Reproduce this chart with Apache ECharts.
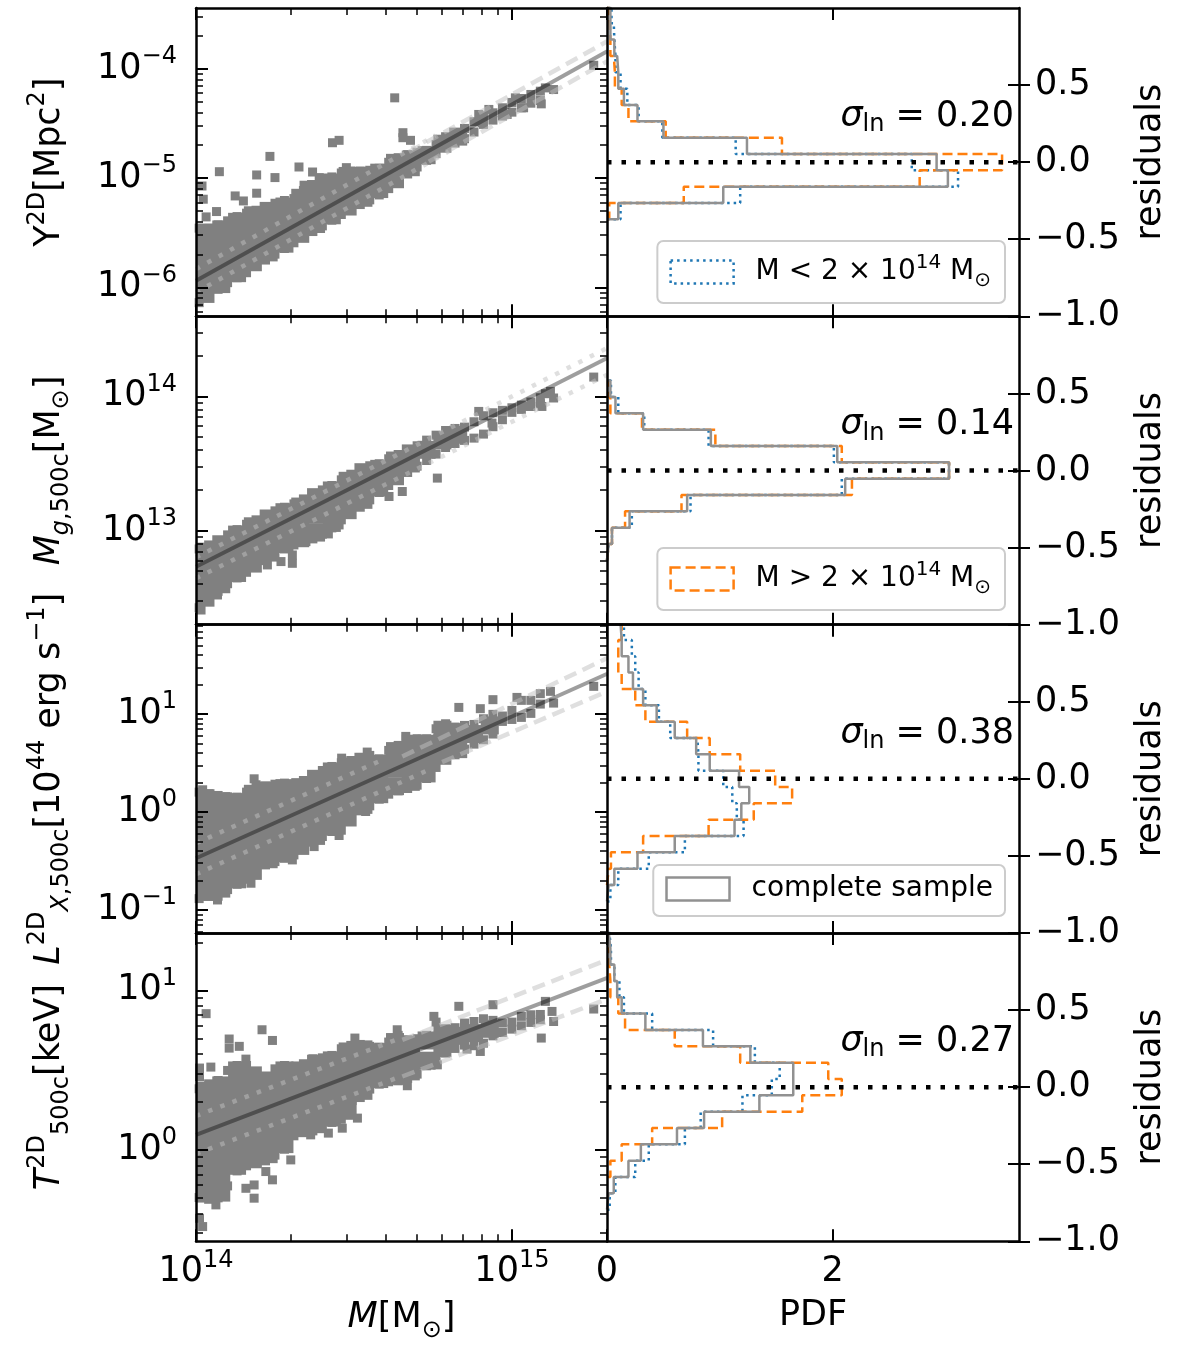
<!DOCTYPE html>
<html><head><meta charset="utf-8">
<script src="https://cdn.jsdelivr.net/npm/echarts@6/dist/echarts.min.js"></script>
<style>html,body{margin:0;padding:0;background:#fff}#c{width:1200px;height:1347px}</style>
</head><body><div id="c"></div>
<script>
// ================= DATA (log10 values for the scatter panels) =================
// mass positions of the sampled cloud edges and of the dense-core columns, log10(M/Msun)
const edgeM = [14.01,14.04,14.07,14.10,14.13,14.16,14.19,14.22,14.25,14.28,14.31,14.34,14.37,14.40,14.43,14.46,14.49,14.52,14.55,14.58,14.61,14.64,14.67,14.70,14.73,14.76,14.79,14.82,14.85,14.88,14.91,14.94,14.97,15.00,15.03,15.06,15.09];
const coreM = [14.03,14.08,14.13,14.18,14.23,14.28,14.33,14.38,14.43,14.48,14.53,14.58,14.63,14.68,14.73,14.78,14.83,14.88,14.93];

// ---- row 1 : Y2D [Mpc^2] ----
const topY = [-5.458,-5.458,-5.428,-5.391,-5.352,-5.321,-5.294,-5.263,-5.230,-5.205,-5.187,-5.114,-5.062,-5.026,-4.989,-4.953,-4.935,-4.935,-4.928,-4.910,-4.855,-4.813,-4.785,-4.764,-4.746,-4.691,-4.621,-4.584,-4.545,-4.484,-4.429,-4.402,-4.356,-4.307,-4.271,-4.234,-4.204];
const botY = [-6.140,-6.079,-6.018,-5.957,-5.912,-5.866,-5.808,-5.750,-5.696,-5.644,-5.592,-5.540,-5.489,-5.437,-5.385,-5.333,-5.285,-5.242,-5.199,-5.154,-5.096,-5.032,-4.962,-4.898,-4.837,-4.776,-4.715,-4.679,-4.639,-4.578,-4.508,-4.469,-4.432,-4.396,-4.356,-4.314,-4.289];
const coreY = [[-5.50,-5.61,-5.72,-5.84,-5.95,-6.06],[-5.47,-5.60,-5.72,-5.85,-5.97],[-5.40,-5.52,-5.64,-5.75,-5.87],[-5.34,-5.48,-5.63,-5.77],[-5.30,-5.43,-5.55,-5.68],[-5.26,-5.37,-5.49,-5.60],[-5.18,-5.29,-5.40,-5.51],[-5.10,-5.26,-5.42],[-5.04,-5.19,-5.34],[-4.98,-5.12,-5.26],[-4.98,-5.08,-5.18],[-4.95,-5.10],[-4.86,-5.01],[-4.83,-4.90],[-4.79],[-4.685],[-4.62],[],[]];
const outY = [[14.019,-5.072],[14.023,-5.193],[14.032,-5.355],[14.065,-5.306],[14.074,-4.941],[14.124,-5.163],[14.150,-5.209],[14.192,-4.971],[14.192,-5.138],[14.234,-4.801],[14.250,-4.995],[14.326,-4.898],[14.342,-5.065],[14.369,-4.944],[14.390,-4.995],[14.402,-5.020],[14.432,-4.676],[14.453,-4.654],[14.476,-4.904],[14.629,-4.265],[14.655,-4.584],[14.655,-4.630],[14.679,-4.654],[15.259,-3.967],[15.093,-4.320],[15.132,-4.189],[15.106,-4.174],[15.011,-4.265],[15.037,-4.356],[14.985,-4.417],[14.927,-4.371],[14.895,-4.417],[14.906,-4.493]];
const fitY = [[14.0,-5.939],[15.302,-3.839]];
const dotY = [[[14.0,-5.833],[14.758,-4.609]],[[14.0,-6.046],[14.800,-4.755]]];
const dashY = [[[14.674,-4.761],[15.302,-3.747]],[[14.737,-4.849],[15.302,-3.930]]];
const limY = [5.43e-7, 3.61e-4];

// ---- row 2 : Mg,500c [Msun] ----
const topMg = [12.863,12.893,12.925,12.968,13.007,13.047,13.080,13.114,13.147,13.174,13.199,13.236,13.276,13.303,13.336,13.378,13.420,13.463,13.483,13.498,13.535,13.567,13.597,13.632,13.674,13.711,13.746,13.761,13.771,13.811,13.856,13.878,13.896,13.915,13.935,13.958,13.990];
const botMg = [12.425,12.483,12.547,12.604,12.647,12.689,12.731,12.776,12.826,12.863,12.893,12.915,12.938,12.973,13.020,13.080,13.132,13.174,13.229,13.284,13.336,13.383,13.433,13.480,13.522,13.570,13.619,13.649,13.672,13.689,13.719,13.774,13.826,13.881,13.903,13.925,13.945];
const coreMg = [[12.843,12.729,12.614,12.500],[12.898,12.799,12.699,12.600],[12.970,12.876,12.779,12.684],[13.032,12.940,12.846,12.754],[13.090,13.005,12.920,12.836],[13.137,13.017,12.900],[13.179,13.062,12.943],[13.249,13.117,12.985],[13.299,13.179,13.057],[13.371,13.261,13.152],[13.435,13.333,13.229],[13.460,13.390,13.321],[13.522,13.405],[13.575,13.500],[13.602],[13.672],[13.714],[],[]];
const outMg = [[14.016,12.408],[14.068,12.520],[14.226,12.744],[14.269,12.769],[14.305,12.756],[14.305,12.818],[14.348,12.918],[14.419,12.975],[14.453,13.042],[14.611,13.254],[14.653,13.291],[14.764,13.391],[14.895,13.888],[14.937,13.801],[15.053,13.925],[15.132,13.988],[15.122,14.037],[15.259,14.144],[15.095,13.925],[15.106,14.020]];
const fitMg = [[14.0,12.731],[15.302,14.286]];
const dotMg = [[[14.0,12.801],[15.302,14.361]],[[14.0,12.644],[15.302,14.162]]];
const dashMg = [];
const limMg = [1.99e12, 3.95e14];

// ---- row 3 : LX,500c [1e44 erg/s] ----
const topL = [0.203,0.186,0.169,0.155,0.152,0.203,0.278,0.264,0.284,0.295,0.271,0.322,0.373,0.424,0.465,0.503,0.526,0.557,0.578,0.543,0.629,0.680,0.741,0.748,0.748,0.850,0.901,0.867,0.884,0.894,0.952,0.997,0.980,1.037,1.140,1.140,1.208];
const botL = [-0.884,-0.860,-0.860,-0.792,-0.738,-0.687,-0.618,-0.540,-0.506,-0.472,-0.438,-0.370,-0.308,-0.250,-0.199,-0.186,-0.090,0.012,0.063,0.131,0.182,0.216,0.240,0.274,0.342,0.455,0.550,0.584,0.642,0.693,0.738,0.796,0.925,0.945,0.966,1.007,1.102];
const coreL = [[0.141,-0.019,-0.179,-0.336,-0.496,-0.656,-0.816],[0.111,-0.039,-0.189,-0.336,-0.486,-0.635,-0.782],[0.101,-0.056,-0.213,-0.373,-0.530,-0.687],[0.186,0.029,-0.128,-0.288,-0.445,-0.601],[0.220,0.080,-0.060,-0.203,-0.342,-0.482],[0.244,0.077,-0.090,-0.254,-0.421],[0.254,0.104,-0.046,-0.196,-0.346],[0.339,0.193,0.046,-0.097,-0.244],[0.414,0.274,0.135,-0.009,-0.148],[0.465,0.291,0.118,-0.056],[0.513,0.366,0.220,0.073],[0.492,0.339,0.182],[0.622,0.445,0.264],[0.697,0.567,0.438,0.308],[0.697,0.547,0.394],[0.840,0.707,0.574],[0.816,0.642],[0.796],[0.884]];
const outL = [[14.832,1.068],[14.900,1.055],[14.940,1.147],[15.016,1.170],[14.664,0.772],[14.542,0.612],[14.461,0.550],[14.184,0.339],[14.021,0.227],[14.305,-0.489],[14.374,-0.353],[14.174,-0.727],[14.068,-0.898],[14.453,-0.240],[14.537,0.005],[15.122,1.232],[15.132,1.112],[15.259,1.283]];
const fitL = [[14.0,-0.472],[15.302,1.412]];
const dotL = [[[14.0,-0.319],[14.590,0.533]],[[14.0,-0.635],[14.737,0.431]]];
const dashL = [[[14.653,0.567],[15.302,1.572]],[[14.779,0.509],[15.302,1.232]]];
const limL = [0.0582, 81.8];

// ---- row 4 : T500c [keV] ----
const topT = [0.383,0.414,0.435,0.498,0.529,0.529,0.477,0.456,0.508,0.529,0.515,0.540,0.571,0.577,0.592,0.634,0.655,0.661,0.649,0.644,0.676,0.718,0.690,0.697,0.718,0.801,0.759,0.766,0.795,0.805,0.822,0.812,0.795,0.801,0.837,0.847,0.849];
const botT = [-0.299,-0.310,-0.301,-0.226,-0.132,-0.100,-0.084,-0.069,-0.033,0.004,0.088,0.113,0.119,0.151,0.172,0.192,0.224,0.328,0.381,0.412,0.427,0.433,0.448,0.475,0.527,0.559,0.607,0.636,0.657,0.653,0.669,0.715,0.736,0.757,0.778,0.799,0.816];
const coreT = [[0.372,0.280,0.188,0.096,0.002,-0.090,-0.182,-0.274],[0.404,0.308,0.211,0.115,0.021,-0.075,-0.172,-0.268],[0.498,0.397,0.299,0.199,0.098,0.000,-0.100],[0.467,0.362,0.257,0.151,0.046,-0.059],[0.435,0.343,0.251,0.157,0.065,-0.027],[0.498,0.406,0.314,0.220,0.128,0.036],[0.498,0.408,0.316,0.226,0.136],[0.540,0.446,0.351,0.255,0.161],[0.561,0.471,0.381,0.293,0.203],[0.617,0.523,0.431,0.337,0.245],[0.630,0.544,0.456,0.370],[0.613,0.529,0.444],[0.676,0.571,0.464],[0.659,0.575,0.492],[0.686,0.559],[0.728,0.638],[0.715],[0.732],[0.759]];
const outT = [[14.032,0.854],[14.011,0.460],[14.011,0.513],[14.047,0.519],[14.105,0.695],[14.105,0.638],[14.137,0.649],[14.209,0.753],[14.242,0.686],[14.158,0.569],[14.503,0.701],[14.637,0.753],[14.753,0.837],[14.832,0.900],[14.940,0.910],[14.900,0.617],[14.858,0.632],[14.764,0.533],[14.669,0.402],[14.511,0.199],[14.463,0.136],[14.419,0.105],[14.363,0.094],[14.300,-0.063],[14.242,-0.188],[14.221,-0.136],[14.184,-0.303],[14.184,-0.220],[14.158,-0.241],[14.011,-0.429],[14.021,-0.481],[14.063,-0.345],[15.106,0.931],[15.127,0.868],[15.132,0.805],[15.259,0.883],[15.093,0.701]];
const fitT = [[14.0,0.094],[15.302,1.079]];
const dotT = [[[14.0,0.213],[14.653,0.705]],[[14.0,-0.025],[14.653,0.464]]];
const dashT = [[[14.653,0.690],[15.302,1.192]],[[14.653,0.460],[15.302,0.946]]];
const limT = [0.267, 22.9];

// ---- residual histograms (PDF per bin; bins from -1.007 to 1.007) ----
const binEdges = [-1.007,-0.901,-0.795,-0.689,-0.583,-0.477,-0.371,-0.265,-0.159,-0.053,0.053,0.159,0.265,0.371,0.477,0.583,0.689,0.795,0.901,1.007];
const histLowY  = [0,0,0,0,0,0,0.12,1.18,3.11,2.70,1.14,0.49,0.28,0.18,0.12,0.075,0.065,0.06,0.04];
const histHighY = [0,0,0,0,0,0,0.02,0.68,2.77,3.50,1.55,0.52,0.19,0.13,0.07,0.06,0.03,0.025,0.015];
const histAllY  = [0,0,0,0,0,0,0.10,1.03,3.02,2.92,1.24,0.50,0.27,0.15,0.10,0.09,0.065,0.03,0.03];
const histLowMg  = [0,0,0,0,0.015,0.044,0.22,0.74,2.08,3.03,2.01,0.90,0.33,0.10,0.035,0,0,0,0];
const histHighMg = [0,0,0,0,0.015,0.044,0.16,0.66,2.17,3.03,2.08,0.96,0.31,0.03,0.01,0,0,0,0];
const histAllMg  = [0,0,0,0,0.015,0.044,0.20,0.71,2.11,3.03,2.04,0.92,0.32,0.075,0.03,0,0,0,0];
const histLowL  = [0,0,0.03,0.10,0.37,0.69,1.21,1.15,1.11,1.03,0.81,0.80,0.56,0.46,0.34,0.28,0.25,0.22,0.15];
const histHighL = [0,0,0,0.015,0.035,0.32,0.90,1.30,1.64,1.49,1.18,0.91,0.71,0.34,0.25,0.13,0.10,0.10,0.13];
const histAllL  = [0,0,0.015,0.065,0.27,0.60,1.13,1.19,1.26,1.17,0.91,0.79,0.60,0.44,0.32,0.23,0.19,0.13,0.12];
const histLowT  = [0,0,0.024,0.074,0.25,0.37,0.69,0.83,1.20,1.46,1.53,1.31,0.94,0.40,0.15,0.11,0.065,0.035,0.02];
const histHighT = [0,0,0,0,0.03,0.13,0.40,1.02,1.73,2.08,1.96,1.18,0.60,0.16,0.10,0.03,0.02,0.01,0];
const histAllT  = [0,0,0.015,0.06,0.19,0.30,0.62,0.86,1.35,1.65,1.65,1.27,0.85,0.34,0.13,0.09,0.065,0.03,0.015];

const sigmaLn = ['0.20','0.14','0.38','0.27'];
const zeroLine = [[0,0],[3.65,0]];
const massLim = [1e14, 2e15];
const pdfLim = [0, 3.65];
const pdfTicks = [0, 2];
const resLim = [-1, 1];
const resTicks = [-1, -0.5, 0, 0.5];
const massTickLabels = [1e14, 1e15];

const nameLow = 'M < 2 × 10^14 M⊙', nameHigh = 'M > 2 × 10^14 M⊙', nameAll = 'complete sample';

// ================= CHART =================
const F = 'DejaVu Sans';
const K = '#000000';
function mkRich(base, small, lh) {
  return {
    t: {fontFamily: F, fontSize: base, color: K, lineHeight: lh},
    b: {fontFamily: F, fontSize: base, color: K, lineHeight: lh},
    i: {fontFamily: F, fontSize: base, color: K, lineHeight: lh, fontStyle: 'italic'},
    s: {fontFamily: F, fontSize: base, color: K, lineHeight: lh, fontStyle: 'italic'},
    p: {fontFamily: F, fontSize: base, color: K, lineHeight: Math.round(base * 1.05)},
    sup: {fontFamily: F, fontSize: small, color: K, verticalAlign: 'top'},
    sub: {fontFamily: F, fontSize: small, color: K, verticalAlign: 'bottom'},
    subi: {fontFamily: F, fontSize: small, color: K, verticalAlign: 'bottom', fontStyle: 'italic'}
  };
}
const richTick = mkRich(35, 24, 48);
const richName = mkRich(35, 24, 48);
const richLeg = mkRich(28, 20, 38);
const richSig = mkRich(35, 24, 40);

function logTicks(lo, hi) {
  const maj = [], min = [];
  for (let d = Math.floor(Math.log10(lo)); d <= Math.ceil(Math.log10(hi)); d++) {
    const p = Math.pow(10, d);
    if (p >= lo * 0.9999 && p <= hi * 1.0001) maj.push(p);
    for (let k = 2; k <= 9; k++) { const v = k * p; if (v >= lo && v <= hi * 1.0001) min.push(v); }
  }
  return {maj, min};
}
const expFmt = v => { const e = Math.round(Math.log10(v)); return '{b|10}{sup|' + (e < 0 ? '\u2212' + (-e) : e) + '}'; };
const resFmt = v => (v < -1e-9 ? '\u2212' : '') + Math.abs(v).toFixed(1);

const rows = [
  {core: coreY, top: topY, bot: botY, out: outY, fit: fitY, dot: dotY, dash: dashY, lim: limY, hist: [histLowY, histHighY, histAllY],
   name: '{t|Y}{sup|2D}{t|[Mpc}{sup|2}{t|]}'},
  {core: coreMg, top: topMg, bot: botMg, out: outMg, fit: fitMg, dot: dotMg, dash: dashMg, lim: limMg, hist: [histLowMg, histHighMg, histAllMg],
   name: '{i|M}{subi|g}{sub|,500c}{t|[M}{sub|⊙}{t|]}'},
  {core: coreL, top: topL, bot: botL, out: outL, fit: fitL, dot: dotL, dash: dashL, lim: limL, hist: [histLowL, histHighL, histAllL],
   name: '{i|L}{sup|2D}{subi|X}{sub|,500c}{t|[10}{sup|44}{t| erg s}{sup|\u22121}{t|]}'},
  {core: coreT, top: topT, bot: botT, out: outT, fit: fitT, dot: dotT, dash: dashT, lim: limT, hist: [histLowT, histHighT, histAllT],
   name: '{i|T}{sup|2D}{sub|500c}{t|[keV]}'}
];

const TOP0 = 8, ROWH = 308.33;
const grids = [], xAxes = [], yAxes = [], series = [], legends = [], graphics = [];

function ax(type, gridIndex, position, min, max) {
  const a = {type, gridIndex, position, min, max, z: 6, silent: true,
    axisLine: {show: false, onZero: false, lineStyle: {color: K, width: 2.5}},
    axisTick: {show: false}, axisLabel: {show: false},
    splitLine: {show: false}, minorTick: {show: false}, minorSplitLine: {show: false}, axisPointer: {show: false}};
  if (type === 'log') a.logBase = 10;
  return a;
}
function ticks(vals, len, w, inside) {
  return {show: true, inside: inside, length: len, customValues: vals, lineStyle: {color: K, width: w}};
}

const xT = logTicks(massLim[0], massLim[1]);
const xmin = massLim[0] * 0.99999, xmax = massLim[1] * 1.00001;

function lineS(xi, yi, data, style, z) {
  return {type: 'line', xAxisIndex: xi, yAxisIndex: yi, data, symbol: 'none', showSymbol: false, silent: true,
    lineStyle: Object.assign({cap: 'butt'}, style), z, animation: false};
}
function stepPath(vals) {
  let a = -1, b = -1;
  vals.forEach((v, k) => { if (v > 0) { if (a < 0) a = k; b = k; } });
  const pts = [[0, binEdges[a]]];
  for (let k = a; k <= b; k++) { pts.push([vals[k], binEdges[k]]); pts.push([vals[k], binEdges[k + 1]]); }
  pts.push([0, binEdges[b + 1]]);
  return pts;
}
const lin = p => [Math.pow(10, p[0]), Math.pow(10, p[1])];

rows.forEach((R, r) => {
  const top = TOP0 + r * ROWH;
  const last = r === rows.length - 1;
  const gl = 2 * r, gr = 2 * r + 1;
  grids.push({left: 196, top: top, width: 411, height: ROWH, containLabel: false, outerBoundsMode: 'none', show: false});
  grids.push({left: 607, top: top, width: 412, height: ROWH, containLabel: false, outerBoundsMode: 'none', show: false});

  // ---- x axes (6 per row) ----
  let a;
  a = ax('log', gl, 'bottom', xmin, xmax); a.axisLine.show = true; a.axisTick = ticks(xT.maj, 12, 2, true);
  if (last) {
    a.axisLabel = {show: true, customValues: massTickLabels, formatter: expFmt, margin: 7, rich: richTick, fontFamily: F, fontSize: 35, color: K};
    a.name = '{i|M}{t|[M}{sub|⊙}{t|]}'; a.nameLocation = 'middle'; a.nameGap = 53;
    a.nameTextStyle = {fontFamily: F, fontSize: 35, color: K, rich: richName};
  }
  xAxes.push(a);
  a = ax('log', gl, 'bottom', xmin, xmax); a.axisTick = ticks(xT.min, 7, 1.5, true); xAxes.push(a);
  a = ax('log', gl, 'top', xmin, xmax); a.axisLine.show = true; a.axisTick = ticks(xT.maj, 12, 2, true); xAxes.push(a);
  a = ax('log', gl, 'top', xmin, xmax); a.axisTick = ticks(xT.min, 7, 1.5, true); xAxes.push(a);
  a = ax('value', gr, 'bottom', pdfLim[0], pdfLim[1]); a.axisLine.show = true; a.axisTick = ticks(pdfTicks, 12, 2, true);
  if (last) {
    a.axisLabel = {show: true, customValues: pdfTicks, formatter: v => String(v), margin: 13, fontFamily: F, fontSize: 35, color: K};
    a.name = 'PDF'; a.nameLocation = 'middle'; a.nameGap = 57;
    a.nameTextStyle = {fontFamily: F, fontSize: 35, color: K};
  }
  xAxes.push(a);
  a = ax('value', gr, 'top', pdfLim[0], pdfLim[1]); a.axisLine.show = true; a.axisTick = ticks(pdfTicks, 12, 2, true); xAxes.push(a);

  // ---- y axes (6 per row) ----
  const yT = logTicks(R.lim[0], R.lim[1]);
  a = ax('log', gl, 'left', R.lim[0], R.lim[1]); a.axisLine.show = true; a.axisTick = ticks(yT.maj, 12, 2, true);
  a.axisLabel = {show: true, customValues: yT.maj, formatter: expFmt, margin: 19, rich: richTick, fontFamily: F, fontSize: 35, color: K};
  a.name = R.name; a.nameLocation = 'middle'; a.nameGap = 122; a.nameRotate = 90;
  a.nameTextStyle = {fontFamily: F, fontSize: 35, color: K, rich: richName};
  yAxes.push(a);
  a = ax('log', gl, 'left', R.lim[0], R.lim[1]); a.axisTick = ticks(yT.min, 7, 1.5, true); yAxes.push(a);
  a = ax('log', gl, 'right', R.lim[0], R.lim[1]); a.axisLine.show = true; a.axisTick = ticks(yT.maj, 12, 2, true); yAxes.push(a);
  a = ax('log', gl, 'right', R.lim[0], R.lim[1]); a.axisTick = ticks(yT.min, 7, 1.5, true); yAxes.push(a);
  a = ax('value', gr, 'right', resLim[0], resLim[1]); a.axisLine.show = true; a.axisTick = ticks(resTicks, 11, 2, false);
  a.axisLabel = {show: true, customValues: resTicks, formatter: resFmt, margin: 16, fontFamily: F, fontSize: 35, color: K};
  a.name = 'residuals'; a.nameLocation = 'middle'; a.nameGap = 114; a.nameRotate = 90;
  a.nameTextStyle = {fontFamily: F, fontSize: 35, color: K};
  yAxes.push(a);
  a = ax('value', gr, 'right', resLim[0], resLim[1]); a.axisTick = ticks(resTicks, 11, 2, true); yAxes.push(a);

  // ---- scatter ----
  const xi = 6 * r, yi = 6 * r;
  const core = [];
  R.core.forEach((col, j) => col.forEach(v => core.push([Math.pow(10, coreM[j]), Math.pow(10, v)])));
  const small = [];
  edgeM.forEach((m, i) => { small.push(lin([m, R.top[i]])); small.push(lin([m, R.bot[i]])); });
  R.out.forEach(p => small.push(lin(p)));
  series.push({type: 'scatter', xAxisIndex: xi, yAxisIndex: yi, data: core, symbol: 'rect', symbolSize: 18,
    itemStyle: {color: '#808080', opacity: 1}, silent: true, z: 2, animation: false});
  series.push({type: 'scatter', xAxisIndex: xi, yAxisIndex: yi, data: small, symbol: 'rect', symbolSize: 9,
    itemStyle: {color: '#808080', opacity: 1}, silent: true, z: 2, animation: false});
  const BAND = 'rgba(192,192,192,0.5)';
  R.dot.forEach(seg => series.push(lineS(xi, yi, seg.map(lin), {color: BAND, width: 4.5, type: [4.5, 8.5]}, 3)));
  R.dash.forEach(seg => series.push(lineS(xi, yi, seg.map(lin), {color: BAND, width: 4.5, type: [13, 7]}, 3)));
  series.push(lineS(xi, yi, R.fit.map(lin), {color: 'rgba(0,0,0,0.38)', width: 4}, 4));

  // ---- histograms ----
  const hx = 6 * r + 4, hy = 6 * r + 4;
  const hs = [[R.hist[0], nameLow, '#1f77b4', [2.5, 4]], [R.hist[1], nameHigh, '#ff7f0e', [10, 5]], [R.hist[2], nameAll, '#919191', 'solid']];
  hs.forEach(h => {
    const s = lineS(hx, hy, stepPath(h[0]), {color: h[2], width: 2.5, type: h[3]}, 3);
    s.name = h[1]; s.itemStyle = {color: h[2]};
    series.push(s);
  });
  series.push(lineS(hx, hy, zeroLine, {color: K, width: 4.5, type: [4.5, 10]}, 4));

  // ---- sigma label ----
  graphics.push({type: 'text', x: 1014, y: top + 109, z: 10, silent: true,
    style: {text: '{s|σ}{sub|ln}{t| = ' + sigmaLn[r] + '}', rich: richSig, align: 'right', verticalAlign: 'middle', fontFamily: F, fontSize: 35, fill: K}});
});

// ---- legends (one entry in each of the first three histogram panels) ----
const legItems = [
  {name: nameLow, color: '#1f77b4', dash: [2.5, 4], top: 241, rich: '{t|M < 2 × 10}{sup|14}{t| M}{sub|⊙}'},
  {name: nameHigh, color: '#ff7f0e', dash: [10, 5], top: 548, rich: '{t|M > 2 × 10}{sup|14}{t| M}{sub|⊙}'},
  {name: nameAll, color: '#919191', dash: 'solid', top: 865, rich: '{p|complete sample}'}
];
legItems.forEach((L, i) => {
  legends.push({
    show: true, right: 195, top: L.top, orient: 'horizontal', selectedMode: false, z: 12,
    padding: i === 2 ? [10, 12, 13, 12] : [12, 14, 12, 12], itemWidth: 63, itemHeight: 23,
    backgroundColor: 'rgba(255,255,255,0.8)', borderColor: '#cccccc', borderWidth: 2, borderRadius: 6,
    data: [{name: L.name, icon: 'rect', itemStyle: {color: 'rgba(255,255,255,0)', borderColor: L.color, borderWidth: 2.5, borderType: L.dash}}],
    formatter: () => L.rich,
    textStyle: {fontFamily: F, fontSize: 28, color: K, padding: [0, 0, 0, 17], rich: richLeg}
  });
});

const chart = echarts.init(document.getElementById('c'), null, {renderer: 'canvas'});
chart.setOption({
  animation: false,
  backgroundColor: '#ffffff',
  textStyle: {fontFamily: F},
  grid: grids, xAxis: xAxes, yAxis: yAxes, series: series, legend: legends, graphic: graphics
});
</script>
</body></html>
